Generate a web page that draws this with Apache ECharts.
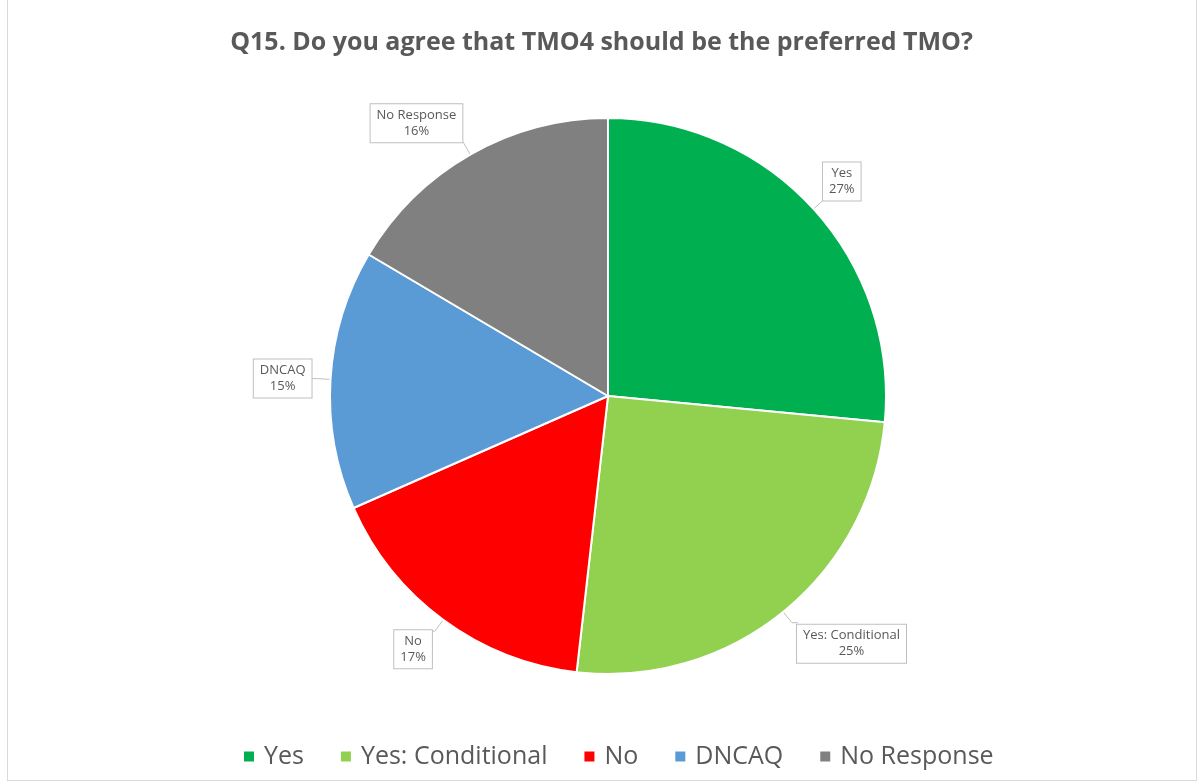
<!DOCTYPE html>
<html><head><meta charset="utf-8">
<script src="https://cdn.jsdelivr.net/npm/echarts@6/dist/echarts.min.js"></script>
<style>
html,body{margin:0;padding:0;background:#fff;}
#wrap{position:absolute;left:7px;top:0px;width:1190px;height:781px;border:1px solid #d9d9d9;border-top:none;box-sizing:border-box;}
#chart{position:absolute;left:0;top:0;width:1203px;height:782px;}
</style></head>
<body>
<div id="wrap"></div>
<div id="chart"></div>
<script>
const categories = ['Yes', 'Yes: Conditional', 'No', 'DNCAQ', 'No Response'];
const values = [26.5, 25.3, 16.6, 15.1, 16.5];
const colors = ['#00B050', '#92D050', '#FF0000', '#5B9BD5', '#808080'];
const titleText = 'Q15. Do you agree that TMO4 should be the preferred TMO?';

// callout nudges (label styling only)
const labelNudge = [[-12, -18], [-6, 21], [8, 18], [6, 0], [10, -19]];

const chart = echarts.init(document.getElementById('chart'));
chart.setOption({
  animation: false,
  title: {
    text: titleText, left: 'center', top: 25,
    textStyle: {fontFamily: 'Open Sans', fontSize: 25, fontWeight: 'bold', color: '#595959'}
  },
  legend: {
    bottom: 8, left: 237, itemWidth: 12, itemHeight: 12, itemGap: 35,
    icon: 'rect',
    textStyle: {fontFamily: 'Open Sans', fontSize: 25, color: '#595959', padding: [0,0,0,4]},
    data: categories
  },
  series: [{
    type: 'pie',
    center: [608, 396],
    radius: 278,
    startAngle: 90,
    clockwise: true,
    percentPrecision: 0,
    itemStyle: {borderColor: '#fff', borderWidth: 2},
    label: {
      show: true, position: 'outside',
      formatter: '{t|{b}}\n{t|{d}%}',
      rich: {t: {fontFamily: 'Open Sans', fontSize: 13, color: '#595959', lineHeight: 16, align: 'center'}},
      backgroundColor: '#fff', borderColor: '#bfbfbf', borderWidth: 1,
      padding: [3, 6]
    },
    labelLine: {show: true, length: 14, length2: 6, lineStyle: {color: '#bfbfbf', width: 1}},
    labelLayout: function (p) {
      const n = labelNudge[p.dataIndex];
      return {dx: n[0], dy: n[1]};
    },
    data: categories.map((c, i) => ({name: c, value: values[i], itemStyle: {color: colors[i]}}))
  }]
});
</script>
</body></html>
